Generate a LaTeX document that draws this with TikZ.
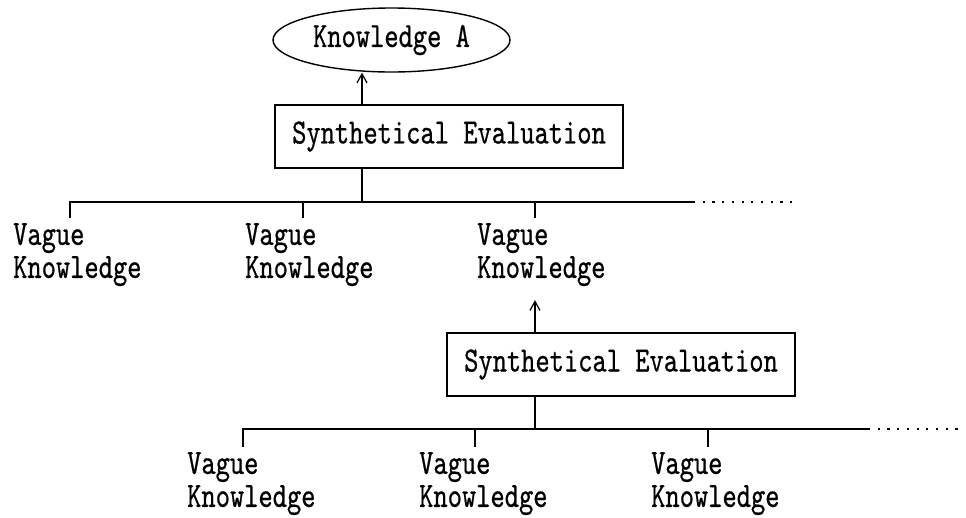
\documentclass[tikz,border=0pt]{standalone}
\usepackage{fontspec}
\usetikzlibrary{shapes.geometric,arrows.meta}
\newfontfamily\diafont{lmmono10-regular}[Extension=.otf,FakeStretch=0.765,FakeBold=0.6]
\begin{document}
\begin{tikzpicture}[x=1pt,y=-1pt,
  every node/.style={font=\diafont\fontsize{35.5}{33}\selectfont},
  link/.style={line width=1.4pt},
  up/.style={link,-{Straight Barb[length=9pt,width=10pt,line width=1.2pt]}},
  more/.style={line width=2.2pt,dash pattern=on 2.2pt off 7.5pt},
  evalbox/.style={draw,line width=1.4pt,minimum width=348pt,minimum height=63pt,inner sep=0pt},
  goal/.style={draw,ellipse,line width=1.4pt,minimum width=237pt,minimum height=64pt,inner sep=0pt},
  vague/.style={align=left,anchor=north west,inner xsep=0pt,inner ysep=5pt}
]
\useasboundingbox (0,0) rectangle (966,517);

% upper tier
\node[goal] (ka) at (391.5,40) {Knowledge A};
\node[evalbox] (se1) at (449,136.5) {Synthetical Evaluation};
\node[vague] (v1) at (13,218) {Vague\\Knowledge};
\node[vague] (v2) at (245,218) {Vague\\Knowledge};
\node[vague] (v3) at (477,218) {Vague\\Knowledge};

\coordinate (b1) at (70,202);
\coordinate (b2) at (303,202);
\coordinate (b3) at (535,202);
\coordinate (j1) at (362,202);
\coordinate (e1) at (693,202);
\coordinate (f1) at (797,202);

\draw[link] (b1 |- v1.north) -- (b1) -- (e1);
\draw[more] (e1) -- (f1);
\draw[link] (b2) -- (b2 |- v2.north);
\draw[link] (b3) -- (b3 |- v3.north);
\draw[link] (se1.south -| j1) -- (j1);
\draw[up] (se1.north -| j1) -- (j1 |- ka.south);

% lower tier
\node[evalbox] (se2) at (621,364.5) {Synthetical Evaluation};
\node[vague] (w1) at (187,447) {Vague\\Knowledge};
\node[vague] (w2) at (419,447) {Vague\\Knowledge};
\node[vague] (w3) at (651,447) {Vague\\Knowledge};

\coordinate (c1) at (243,429);
\coordinate (c2) at (475,429);
\coordinate (c3) at (708,429);
\coordinate (j2) at (535,429);
\coordinate (e2) at (868,429);
\coordinate (f2) at (963,429);

\draw[link] (c1 |- w1.north) -- (c1) -- (e2);
\draw[more] (e2) -- (f2);
\draw[link] (c2) -- (c2 |- w2.north);
\draw[link] (c3) -- (c3 |- w3.north);
\draw[link] (se2.south -| j2) -- (j2);
\draw[up,shorten >=9pt] (se2.north -| j2) -- (j2 |- v3.south);
\end{tikzpicture}
\end{document}
